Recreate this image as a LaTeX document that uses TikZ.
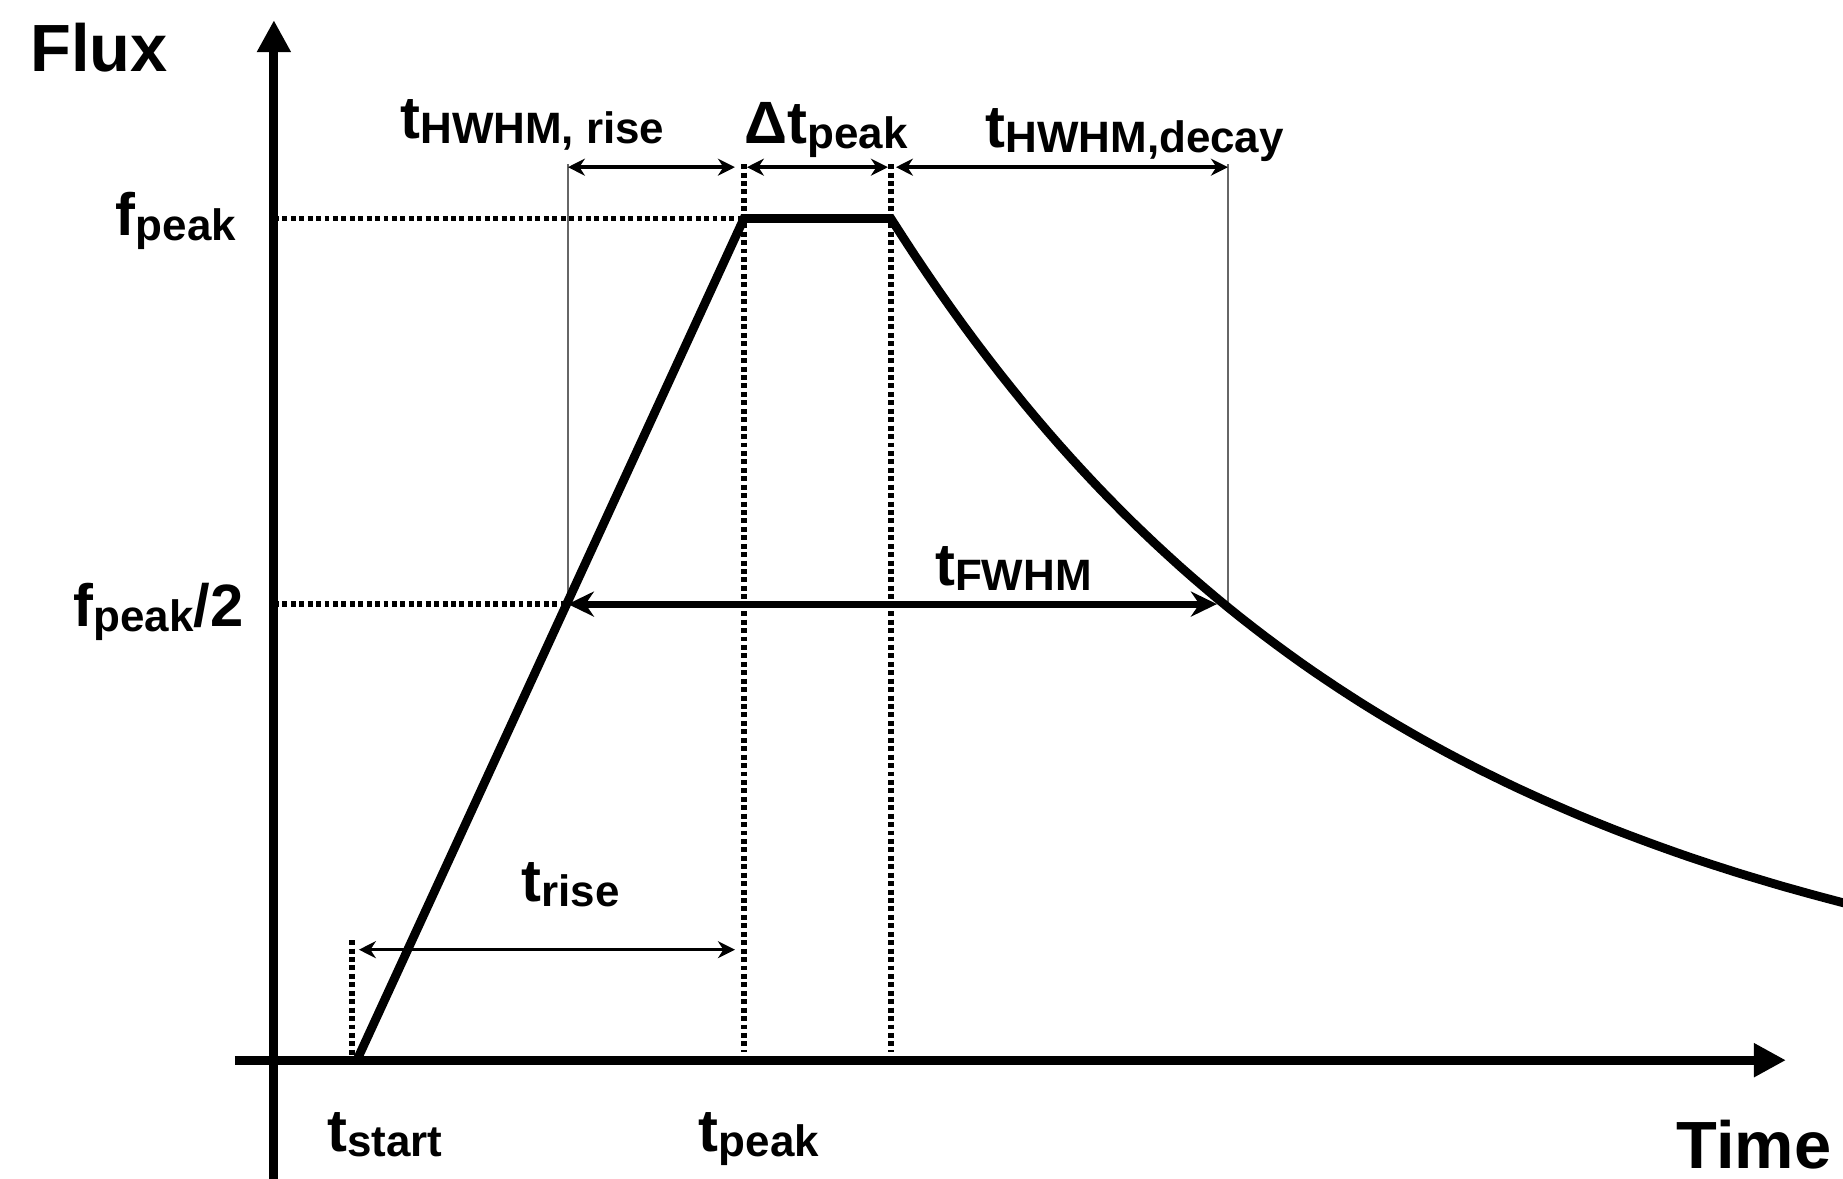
\documentclass[tikz,border=0pt]{standalone}
\usepackage{fontspec}
\setmainfont{Liberation Sans}
\usetikzlibrary{arrows.meta}
\newcommand{\mainsz}{\fontsize{17}{19}\selectfont\bfseries}
\newcommand{\subsz}{\fontsize{12.5}{14}\selectfont\bfseries}
\newcommand{\lcsym}[2]{{\mainsz #1}\raisebox{-0.05cm}{\subsz #2}}
\tikzset{
  axisline/.style={line width=2.6pt, -{Triangle[length=0.32cm, width=0.32cm]}},
  lightcurve/.style={line width=2.5pt, line join=miter},
  guide/.style={line width=1.6pt, dash pattern=on 1.4pt off 1pt},
  thinline/.style={line width=0.5pt, draw=black!60},
  span/.style={line width=1pt, {Stealth[length=0.17cm, width=0.17cm]}-{Stealth[length=0.17cm, width=0.17cm]}},
  bigspan/.style={line width=2pt, {Stealth[length=0.26cm, width=0.25cm]}-{Stealth[length=0.26cm, width=0.25cm]}},
  lab/.style={inner sep=0pt, anchor=base west},
  axislab/.style={lab, font=\fontsize{19}{22}\selectfont\bfseries},
}

\begin{document}
\begin{tikzpicture}
\useasboundingbox (-2.739,-1.188) rectangle (15.691,10.602);
% points of the light curve
\coordinate (o) at (0,0);
\coordinate (ts) at (0.83,0);
\coordinate (pk) at (4.70,8.416);
\coordinate (pe) at (6.17,8.416);
\coordinate (hr) at (2.94,4.561);
\coordinate (hd) at (9.50,4.561);
\coordinate (ytop) at (0,10.40);
\coordinate (ybot) at (0,-1.19);
\coordinate (xl) at (-0.39,0);
\coordinate (xr) at (15.12,0);
\coordinate (top) at (0,8.93);
\coordinate (guidetop) at (0,8.96);
\coordinate (low) at (0,1.105);
\coordinate (lowtop) at (0,1.20);
% axes
\draw[axisline] (ybot) -- (ytop);
\draw[axisline] (xl) -- (xr);
% guides
\draw[guide] (o |- pk) -- ([xshift=0.29cm]pk);
\draw[guide] (o |- hr) -- (hr);
\draw[guide] (pk |- guidetop) -- ([yshift=0.08cm]pk |- o);
\draw[guide] (pe |- guidetop) -- ([yshift=0.08cm]pe |- o);
\draw[guide] ([xshift=-0.05cm]ts |- lowtop) -- ([xshift=-0.05cm]ts);
\draw[thinline] (hr |- guidetop) -- (hr);
\draw[thinline] ([xshift=0.04cm]hd |- guidetop) -- ([xshift=0.04cm]hd);
% curve
\draw[lightcurve] (ts) -- (pk) -- (pe)
  -- plot[domain=6.17:15.70, samples=80]
     (\x, {8.416*exp(-0.18823*(\x-6.17)+0.001282*(\x-6.17)^2)});
% spans
\draw[span] (hr |- top) -- ([xshift=-0.09cm]pk |- top);
\draw[span] ([xshift=0.03cm]pk |- top) -- ([xshift=-0.03cm]pe |- top);
\draw[span] ([xshift=0.05cm]pe |- top) -- ([xshift=0.04cm]hd |- top);
\draw[bigspan] (hr) -- ([xshift=-0.07cm]hd);
\draw[span] ([xshift=0.02cm]ts |- low) -- ([xshift=-0.09cm]pk |- low);
% labels
\node[axislab] (flux) at (-2.44,9.885) {Flux};
\node[axislab] (time) at (14.02,-1.08) {Time};
\node[lab] (fpeak) at (-1.587,8.25) {\lcsym{f}{peak}};
\node[lab] (fhalf) at (-2.01,4.337) {\lcsym{f}{peak}\mainsz/2};
\node[lab] (hwrise) at (1.258,9.215) {\lcsym{t}{HWHM, rise}};
\node[lab] (dtpeak) at (4.70,9.17) {\lcsym{Δt}{peak}};
\node[lab] (hwdecay) at (7.11,9.13) {\lcsym{t}{HWHM,decay}};
\node[lab] (fwhm) at (6.606,4.75) {\lcsym{t}{FWHM}};
\node[lab] (trise) at (2.468,1.587) {\lcsym{t}{rise}};
\node[lab] (tstart) at (0.529,-0.917) {\lcsym{t}{start}};
\node[lab] (tpeak) at (4.243,-0.917) {\lcsym{t}{peak}};
\end{tikzpicture}
\end{document}
